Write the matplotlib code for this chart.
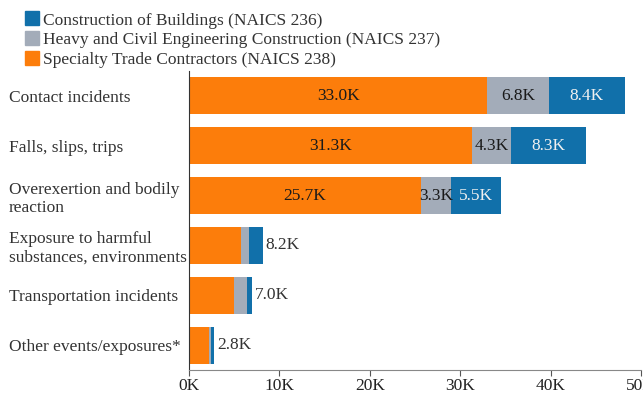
import matplotlib.pyplot as plt
from matplotlib.lines import Line2D

plt.rcParams['font.family'] = ['Liberation Serif', 'DejaVu Serif']

categories = [
    "Contact incidents",
    "Falls, slips, trips",
    "Overexertion and bodily\nreaction",
    "Exposure to harmful\nsubstances, environments",
    "Transportation incidents",
    "Other events/exposures*",
]
# injuries in thousands, by sub-sector
specialty = [33.0, 31.3, 25.7, 5.8, 5.0, 2.2]
heavy_civil = [6.8, 4.3, 3.3, 0.8, 1.4, 0.2]
buildings = [8.4, 8.3, 5.5, 1.6, 0.6, 0.4]
totals = [None, None, None, 8.2, 7.0, 2.8]

series = [
    ("Specialty Trade Contractors (NAICS 238)", specialty, "#fc7d0b", "#1a1a1a"),
    ("Heavy and Civil Engineering Construction (NAICS 237)", heavy_civil, "#a3acb9", "#1a1a1a"),
    ("Construction of Buildings (NAICS 236)", buildings, "#1170aa", "#f0f0f0"),
]
FS = 12.5

fig = plt.figure(figsize=(6.43, 3.95), dpi=100)
ax = fig.add_axes([189 / 643, 25 / 395, 452 / 643, 299 / 395])

ypos = list(range(len(categories)))
left = [0.0] * len(categories)
for name, vals, color, txt in series:
    ax.barh(ypos, vals, left=left, height=0.74, color=color, label=name)
    for i, v in enumerate(vals):
        if totals[i] is None:
            ax.text(left[i] + v / 2, i, f"{v:.1f}K", ha="center", va="center",
                    fontsize=FS, color=txt)
    left = [l + v for l, v in zip(left, vals)]

# small bars get a total label past the end
for i, t in enumerate(totals):
    if t is not None:
        ax.text(left[i] + 0.3, i, f"{t:.1f}K", ha="left", va="center",
                fontsize=FS, color="#333333")

ax.set_ylim(len(categories) - 0.5, -0.5)
ax.set_xlim(0, 50)
ax.set_yticks(ypos)
ax.set_yticklabels(categories, fontsize=FS, color="#333333", ha="left")
# left-align the category names at a fixed margin
ax.tick_params(axis="y", length=0, pad=(189 - 9) * 0.72)
ax.set_xticks([0, 10, 20, 30, 40, 50])
ax.set_xticklabels([f"{v}K" for v in [0, 10, 20, 30, 40, 50]], fontsize=FS, color="#222222")
ax.tick_params(axis="x", length=4, color="#555555", pad=2)
for s in ["top", "right"]:
    ax.spines[s].set_visible(False)
ax.spines["left"].set_color("#333333")
ax.spines["bottom"].set_color("#888888")

handles = [Line2D([], [], marker="s", linestyle="None", markersize=10, color=c)
           for _, _, c, _ in reversed(series)]
labels = [n for n, _, _, _ in reversed(series)]
fig.legend(handles, labels, loc="upper left", bbox_to_anchor=(15 / 643, 1 - 2 / 395),
           frameon=False, fontsize=FS, handlelength=0.8, handletextpad=0.2,
           labelspacing=0.2, borderaxespad=0.2, labelcolor="#333333")

fig.savefig("out.png", dpi=100)
